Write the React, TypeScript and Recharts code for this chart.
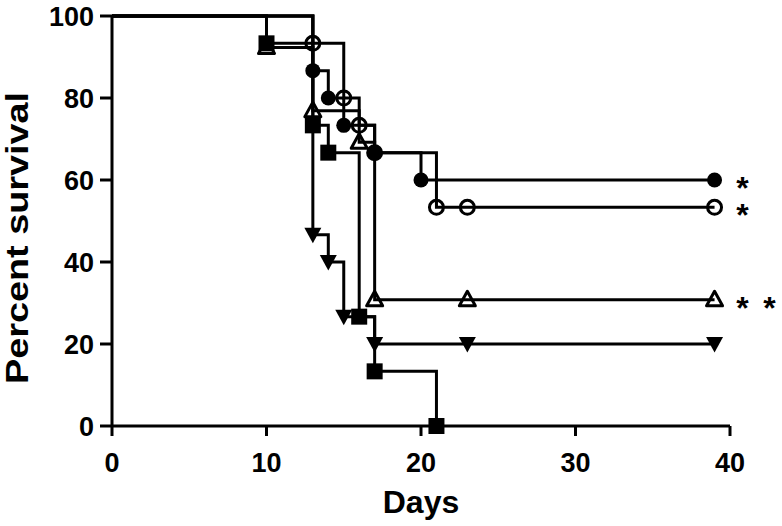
import React from 'react';
import { LineChart, Line, XAxis, YAxis, LabelList, Label } from 'recharts';

// Kaplan-Meier survival steps (days, percent survival)
const filledCircleDays = [0, 13, 14, 15, 17, 20, 39];
const filledCircleSurvival = [100, 86.67, 80, 73.33, 66.67, 60, 60];

const openCircleDays = [0, 13, 15, 16, 17, 21, 23, 39];
const openCircleSurvival = [100, 93.33, 80, 73.33, 66.67, 53.33, 53.33, 53.33];

const openTriangleDays = [0, 10, 13, 16, 17, 23, 39];
const openTriangleSurvival = [100, 92.31, 76.92, 69.23, 30.77, 30.77, 30.77];

const squareDays = [0, 10, 13, 14, 16, 17, 21];
const squareSurvival = [100, 93.33, 73.33, 66.67, 26.67, 13.33, 0];

const invTriangleDays = [0, 13, 14, 15, 17, 23, 39];
const invTriangleSurvival = [100, 46.67, 40, 26.67, 20, 20, 20];

const significance = ['*', '*', '**', '', ''];

const xTicks = [0, 10, 20, 30, 40];
const yTicks = [0, 20, 40, 60, 80, 100];

const FONT = '"Liberation Sans", Arial, Helvetica, sans-serif';

const toData = (days: number[], vals: number[]) => days.map((d, i) => ({ x: d, y: vals[i] }));

type Shape = 'filledCircle' | 'openCircle' | 'openTriangle' | 'square' | 'invTriangle';

const series: { shape: Shape; data: { x: number; y: number }[]; sig: string }[] = [
  { shape: 'square', data: toData(squareDays, squareSurvival), sig: significance[3] },
  { shape: 'invTriangle', data: toData(invTriangleDays, invTriangleSurvival), sig: significance[4] },
  { shape: 'openTriangle', data: toData(openTriangleDays, openTriangleSurvival), sig: significance[2] },
  { shape: 'openCircle', data: toData(openCircleDays, openCircleSurvival), sig: significance[1] },
  { shape: 'filledCircle', data: toData(filledCircleDays, filledCircleSurvival), sig: significance[0] },
];

const makeDot = (shape: Shape) => (props: any) => {
  const { cx, cy, index } = props;
  const key = `${shape}-${index}`;
  if (index === 0 || cx == null || cy == null) return <g key={key} />;
  switch (shape) {
    case 'filledCircle':
      return <circle key={key} cx={cx} cy={cy} r={7.5} fill="#000" />;
    case 'openCircle':
      return <circle key={key} cx={cx} cy={cy} r={7} fill="none" stroke="#000" strokeWidth={3} />;
    case 'openTriangle':
      return (
        <polygon
          key={key}
          points={`${cx},${cy - 8.5} ${cx + 8},${cy + 6} ${cx - 8},${cy + 6}`}
          fill="none"
          stroke="#000"
          strokeWidth={3}
          strokeLinejoin="round"
        />
      );
    case 'square':
      return <rect key={key} x={cx - 8} y={cy - 8} width={16} height={16} fill="#000" />;
    case 'invTriangle':
      return (
        <polygon
          key={key}
          points={`${cx - 8.5},${cy - 7} ${cx + 8.5},${cy - 7} ${cx},${cy + 8.5}`}
          fill="#000"
        />
      );
  }
  return <g key={key} />;
};

const makeStars = (sig: string, lastIndex: number) => (props: any) => {
  const { x, y, index } = props;
  if (index !== lastIndex || !sig) return null;
  const stars = sig.split('');
  return (
    <g>
      {stars.map((s, i) => (
        <text
          key={i}
          x={x + 28 + i * 27}
          y={y + 19}
          textAnchor="middle"
          fontFamily={FONT}
          fontWeight="bold"
          fontSize={32}
          fill="#000"
        >
          {s}
        </text>
      ))}
    </g>
  );
};

const YLabel = () => {
  const cx = 17;
  const cy = 238;
  return (
    <text
      x={cx}
      y={cy}
      transform={`rotate(-90 ${cx} ${cy})`}
      textAnchor="middle"
      dominantBaseline="central"
      fontFamily={FONT}
      fontWeight="bold"
      fontSize={32}
      fill="#000"
      textLength={292}
      lengthAdjust="spacingAndGlyphs"
    >
      Percent survival
    </text>
  );
};

const XLabel = (props: any) => {
  const vb = props.viewBox || { x: 112, y: 426, width: 618 };
  return (
    <text
      x={vb.x + vb.width / 2}
      y={vb.y + 87}
      textAnchor="middle"
      fontFamily={FONT}
      fontWeight="bold"
      fontSize={32}
      fill="#000"
    >
      Days
    </text>
  );
};

const XTick = (props: any) => {
  const { x, y, payload } = props;
  return (
    <text
      x={x}
      y={y + 34}
      textAnchor="middle"
      fontFamily={FONT}
      fontWeight="bold"
      fontSize={27}
      fill="#000"
    >
      {payload.value}
    </text>
  );
};

const YTick = (props: any) => {
  const { y, payload } = props;
  return (
    <text
      x={94}
      y={y + 10}
      textAnchor="end"
      fontFamily={FONT}
      fontWeight="bold"
      fontSize={27}
      fill="#000"
    >
      {payload.value}
    </text>
  );
};

export default function App() {
  return (
    <div style={{ position: 'absolute', left: 0, top: 0, width: 782, height: 526, background: '#fff' }}>
      <LineChart width={782} height={526} margin={{ top: 16, right: 52, bottom: 0, left: 0 }}>
        <XAxis
          type="number"
          dataKey="x"
          domain={[0, 40]}
          ticks={xTicks}
          allowDuplicatedCategory={false}
          height={100}
          axisLine={{ stroke: '#000', strokeWidth: 3 }}
          tickLine={{ stroke: '#000', strokeWidth: 3 }}
          tickSize={10}
          tick={<XTick />}
          interval={0}
        >
          <Label content={<XLabel />} />
        </XAxis>
        <YAxis
          type="number"
          domain={[0, 100]}
          ticks={yTicks}
          width={112}
          axisLine={{ stroke: '#000', strokeWidth: 3 }}
          tickLine={{ stroke: '#000', strokeWidth: 3 }}
          tickSize={12}
          tick={<YTick />}
          interval={0}
        >
          <Label content={<YLabel />} />
        </YAxis>
        {series.map((s) => (
          <Line
            key={s.shape}
            data={s.data}
            dataKey="y"
            type="stepAfter"
            stroke="#000"
            strokeWidth={3}
            dot={makeDot(s.shape)}
            activeDot={false}
            isAnimationActive={false}
          >
            <LabelList dataKey="y" content={makeStars(s.sig, s.data.length - 1)} />
          </Line>
        ))}
      </LineChart>
    </div>
  );
}
